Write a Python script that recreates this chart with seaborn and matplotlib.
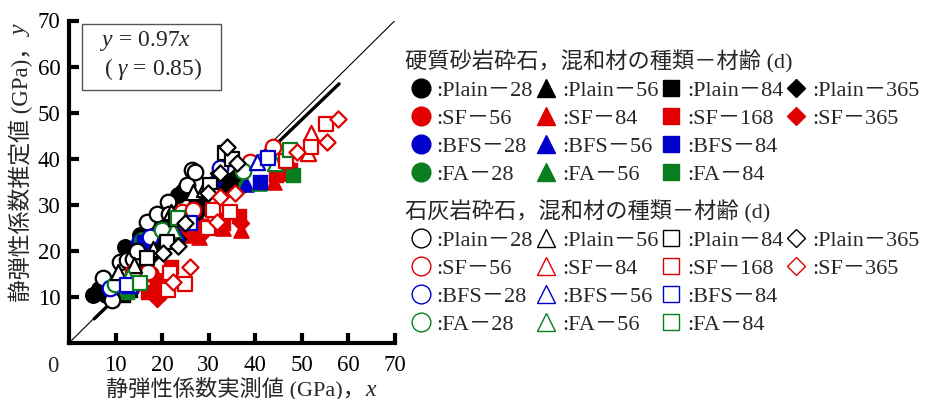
import matplotlib
matplotlib.use("Agg")
import matplotlib.pyplot as plt
from matplotlib.lines import Line2D
from matplotlib.patches import Rectangle
import seaborn as sns

# 硬質砂岩砕石 (filled markers): (実測値 x, 推定値 y)
sand_plain_28 = ([5.2, 6.5, 8.0, 9.5, 10.5, 12.0, 13.0, 15.2, 17.5, 19.5, 21.5, 23.4, 24.5],
                 [10.4, 11.8, 10.5, 12.0, 13.5, 20.8, 20.0, 23.4, 24.0, 27.0, 30.0, 32.1, 33.0])
sand_sf_56 = ([14.0, 17.5, 20.0, 24.0, 26.0, 28.5, 35.5], [12.5, 15.0, 13.5, 24.5, 24.0, 25.5, 35.0])
sand_bfs_28 = ([9.0, 15.0, 32.0], [11.5, 22.0, 35.5])
sand_fa_28 = ([11.0, 15.7, 36.7], [11.0, 22.3, 34.0])
sand_plain_56 = ([7.5, 10.5, 14.0, 16.0, 18.5, 21.0, 26.0, 33.0],
                 [11.0, 13.0, 17.0, 22.0, 26.5, 24.0, 29.5, 33.5])
sand_sf_84 = ([18.0, 21.5, 24.5, 28.0, 33.0, 37.0, 44.0, 46.5],
              [11.5, 14.5, 23.5, 23.0, 25.0, 24.5, 35.0, 37.0])
sand_bfs_56 = ([11.5, 17.0, 38.0], [12.0, 22.5, 34.5])
sand_fa_56 = ([11.8, 20.0, 40.8], [11.5, 24.0, 34.7])
sand_plain_84 = ([11.5, 13.0, 15.5, 19.0, 22.5, 27.5, 30.5, 34.5],
                 [10.5, 11.5, 17.5, 20.5, 23.0, 30.0, 31.0, 35.0])
sand_sf_168 = ([17.0, 19.0, 22.0, 25.5, 30.0, 33.0, 36.5, 44.5, 47.5],
               [11.0, 12.5, 16.5, 23.5, 25.5, 26.0, 27.5, 36.5, 37.5])
sand_bfs_84 = ([12.0, 16.0, 41.0], [11.5, 22.0, 35.0])
sand_fa_84 = ([12.5, 21.0, 48.0], [11.0, 23.5, 36.4])
sand_plain_365 = ([14.5, 17.0, 20.0, 23.5, 28.0, 32.0, 35.5], [13.5, 16.0, 21.5, 22.5, 28.5, 37.0, 36.0])
sand_sf_365 = ([18.8, 20.5, 27.0, 29.0, 31.5, 37.0, 45.0], [9.5, 11.0, 24.0, 24.0, 27.5, 26.0, 38.5])

# 石灰岩砕石 (open markers)
lime_plain_28 = ([7.3, 9.2, 10.9, 12.5, 13.8, 14.5, 16.7, 19.0, 21.2, 21.5, 25.3, 26.4, 27.0],
                 [14.1, 9.3, 17.6, 18.0, 18.3, 20.0, 26.3, 28.0, 30.6, 28.0, 34.3, 37.5, 37.2])
lime_sf_56 = ([13.8, 17.0, 24.2, 26.7, 38.8, 43.7], [15.4, 15.4, 28.4, 28.9, 39.3, 42.6])
lime_bfs_28 = ([8.8, 17.4, 32.4], [11.9, 23.0, 37.9])
lime_fa_28 = ([9.9, 19.9, 37.4], [12.8, 24.5, 37.4])
lime_plain_56 = ([10.5, 14.0, 18.0, 22.0, 26.6, 29.0], [15.4, 17.0, 20.5, 28.5, 32.8, 33.5])
lime_sf_84 = ([22.0, 30.5, 46.5, 51.4, 52.0], [14.0, 27.0, 40.5, 41.2, 45.5])
lime_bfs_56 = ([13.0, 23.0, 40.3], [12.5, 24.0, 39.3])
lime_fa_56 = ([12.7, 22.3, 44.2], [14.3, 24.5, 39.0])
lime_plain_84 = ([16.7, 21.0, 23.0, 30.3, 31.0, 33.5, 35.0], [18.4, 22.0, 27.0, 34.3, 32.0, 41.2, 40.0])
lime_sf_168 = ([21.3, 21.7, 24.9, 29.9, 31.0, 34.5, 46.5, 52.0, 55.2],
               [11.5, 15.1, 12.8, 24.9, 28.9, 28.5, 39.5, 42.6, 47.5])
lime_bfs_84 = ([12.4, 26.0, 42.7], [12.6, 26.0, 40.1])
lime_fa_84 = ([15.2, 23.4, 47.4], [13.0, 27.1, 42.0])
lime_plain_365 = ([20.2, 23.5, 25.0, 29.9, 32.5, 33.9, 36.0], [19.5, 21.0, 26.0, 32.5, 37.0, 42.5, 39.0])
lime_sf_365 = ([22.3, 26.0, 31.7, 32.4, 35.6, 49.0, 55.3, 57.7],
               [13.3, 16.5, 26.3, 31.6, 32.5, 41.5, 43.6, 48.6])

# 凡例の順番 (列ごと)
mix_labels = ["Plain－28", "SF－56", "BFS－28", "FA－28",
              "Plain－56", "SF－84", "BFS－56", "FA－56",
              "Plain－84", "SF－168", "BFS－84", "FA－84",
              "Plain－365", "SF－365"]
sand_series = [sand_plain_28, sand_sf_56, sand_bfs_28, sand_fa_28,
               sand_plain_56, sand_sf_84, sand_bfs_56, sand_fa_56,
               sand_plain_84, sand_sf_168, sand_bfs_84, sand_fa_84,
               sand_plain_365, sand_sf_365]
lime_series = [lime_plain_28, lime_sf_56, lime_bfs_28, lime_fa_28,
               lime_plain_56, lime_sf_84, lime_bfs_56, lime_fa_56,
               lime_plain_84, lime_sf_168, lime_bfs_84, lime_fa_84,
               lime_plain_365, lime_sf_365]

# 回帰式 y = 0.97x と y = x
ref_x = [0, 70]
fit_x = [5.4, 58.0]
fit_slope = 0.97

# スタイル
K, R, B, G = "black", "#e00000", "#0000cc", "#0a7d1e"
colors = [K, R, B, G] * 3 + [K, R]
markers = ["o"] * 4 + ["^"] * 4 + ["s"] * 4 + ["D"] * 2
sizes = {"o": 125, "^": 120, "s": 105, "D": 68}
leg_ms = {"o": 13.5, "^": 13, "s": 11.5, "D": 8.7}

sns.set_style("ticks")
plt.rcParams["font.family"] = ["Liberation Serif", "Noto Sans CJK JP"]
plt.rcParams["mathtext.fontset"] = "custom"
plt.rcParams["mathtext.rm"] = "Liberation Serif"
plt.rcParams["mathtext.it"] = "Liberation Serif:italic"

fig = plt.figure(figsize=(9.4, 3.99), dpi=100)
ax = fig.add_axes([69 / 940, 56 / 399, 326 / 940, 322.5 / 399])

sns.lineplot(x=ref_x, y=ref_x, color="black", linewidth=0.8, ax=ax, zorder=1)
sns.lineplot(x=fit_x, y=[fit_slope * v for v in fit_x], color="black", linewidth=2.4, ax=ax, zorder=1)

for pts, m, c in zip(sand_series, markers, colors):
    sns.scatterplot(x=pts[0], y=pts[1], marker=m, s=sizes[m], color=c, edgecolor=c,
                    linewidth=1.0, ax=ax, legend=False, zorder=3)
for pts, m, c in zip(lime_series, markers, colors):
    sns.scatterplot(x=pts[0], y=pts[1], marker=m, s=sizes[m], color="white", edgecolor=c,
                    linewidth=1.6, ax=ax, legend=False, zorder=4)

ax.set_xlim(0, 70)
ax.set_ylim(0, 70)
ax.set_xticks(range(10, 71, 10))
ax.set_yticks(range(10, 71, 10))
ax.tick_params(direction="in", length=7, width=3, labelsize=16.5, colors="black")
ax.tick_params(axis="x", pad=8.5)
ax.tick_params(axis="y", pad=6)
for s in ["top", "right"]:
    ax.spines[s].set_visible(False)
for s in ["left", "bottom"]:
    ax.spines[s].set_linewidth(3)
    ax.spines[s].set_color("black")
ax.text(-0.05, -0.04, "0", transform=ax.transAxes, ha="center", va="top", fontsize=16.5)

# 回帰式の枠
ax.add_patch(Rectangle((2.8, 54.9), 29.8, 14.3, facecolor="white", edgecolor="#555555",
                       linewidth=1.0, zorder=5))
ax.text(16.5, 65.5, "$y$ = 0.97$x$", ha="center", va="center", fontsize=17, zorder=6)
ax.text(18.0, 59.4, r"( $\gamma$ = 0.85)", ha="center", va="center", fontsize=17, zorder=6)

# 軸ラベル
xl = fig.text(236 / 940, 1 - 389 / 399, "静弾性係数実測値 (GPa)，", ha="center", va="center", fontsize=16)
ax.annotate("x", xy=(1, 0), xycoords=xl, ha="left", va="bottom", fontsize=17, style="italic")
yl = fig.text(21 / 940, 1 - 169 / 399, "静弾性係数推定値 (GPa)，", rotation=90,
              ha="center", va="center", fontsize=16.5)
ax.annotate("y", xy=(0.5, 1), xycoords=yl, ha="center", va="bottom", rotation=90,
            fontsize=17, style="italic")


def legend_entries(filled):
    handles = []
    for m, c in zip(markers, colors):
        handles.append(Line2D([], [], linestyle="none", marker=m, markersize=leg_ms[m],
                              markerfacecolor=c if filled else "white", markeredgecolor=c,
                              markeredgewidth=1.0))
    handles += [Line2D([], [], linestyle="none")] * 2
    labels = [":" + l for l in mix_labels] + ["", ""]
    return handles, labels


leg_kw = dict(loc="upper left", ncol=4, frameon=False, alignment="left", fontsize=16,
              title_fontsize=16, handlelength=1.4, handletextpad=0.02, columnspacing=-0.12,
              labelspacing=0.33, borderpad=0, borderaxespad=0)
h, l = legend_entries(True)
fig.legend(h, l, title="硬質砂岩砕石，混和材の種類－材齢 (d)",
           bbox_to_anchor=(405 / 940, 1 - 50 / 399), **leg_kw)
h, l = legend_entries(False)
fig.legend(h, l, title="石灰岩砕石，混和材の種類－材齢 (d)",
           bbox_to_anchor=(405 / 940, 1 - 200 / 399), **leg_kw)

fig.savefig("out.png", dpi=100)
